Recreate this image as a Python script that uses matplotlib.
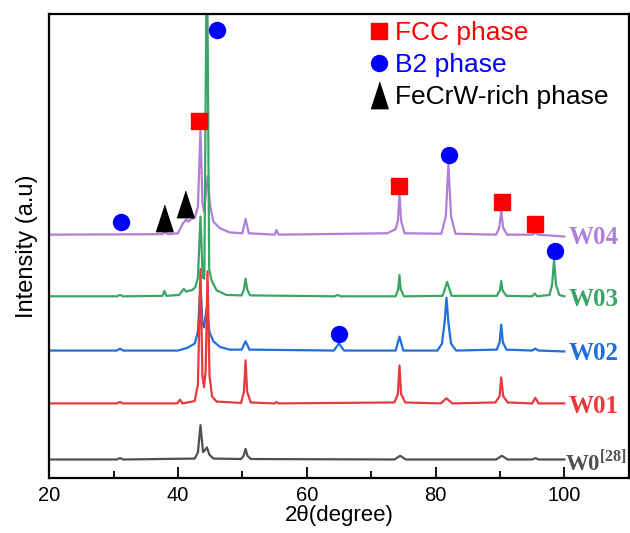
import numpy as np
import matplotlib
matplotlib.use('Agg')
import matplotlib.pyplot as plt
from matplotlib.lines import Line2D

plt.rcParams['font.family'] = ['Liberation Sans', 'DejaVu Sans']
plt.rcParams['mathtext.fontset'] = 'custom'
plt.rcParams['mathtext.rm'] = 'Liberation Serif'
plt.rcParams['mathtext.bf'] = 'Liberation Serif:bold'

# ---- data (2theta, intensity above each baseline, arbitrary units) ----
w0_x = [20, 30.5, 31, 31.5, 42.6, 43.1, 43.5, 43.9, 44.2, 44.5, 44.9, 45.5, 49.8, 50.2, 50.5, 50.8, 51.3,
        73.6, 74.5, 75.4, 89.4, 90.3, 91.2, 95, 95.5, 96, 100]
w0_y = [0, 0, 0.3, 0, 0.2, 1.5, 7.4, 1.6, 2.0, 2.6, 1.0, 0.2, 0.1, 0.8, 2.3, 0.8, 0.1,
        0, 0.8, 0, 0, 0.8, 0, 0, 0.3, 0, 0]

w01_x = [20, 30.5, 31, 31.5, 39.9, 40.3, 40.7, 42.6, 43.1, 43.5, 43.8, 44.05, 44.3, 44.6, 44.9, 45.3, 46,
         49.8, 50.25, 50.5, 50.75, 51.3, 55, 55.3, 55.6, 73.6, 74.15, 74.4, 74.65, 75.3, 80.8, 81.7, 82.6,
         89.3, 89.95, 90.2, 90.5, 91.2, 95.0, 95.5, 96.0, 100]
w01_y = [0, 0, 0.3, 0, 0, 0.8, 0, 0.5, 4, 29, 6, 3.5, 7, 28.5, 6, 1.5, 0.4,
         0.1, 2.5, 9.3, 2.5, 0.2, 0, 0.3, 0, 0.2, 2, 8.2, 2, 0.2, 0, 1.1, 0,
         0.2, 1.6, 5.6, 1.6, 0.2, 0, 1.2, 0, 0]

w02_x = [20, 30.5, 31, 31.5, 40, 41.5, 42.6, 43.1, 43.5, 43.8, 44.05, 44.5, 44.9, 45.5, 46.5, 48,
         49.9, 50.5, 51.1, 64.2, 65.0, 65.8, 73.8, 74.4, 75.0, 80.3, 81.0, 81.4, 81.7, 82.0, 82.4, 83.2,
         89.5, 89.95, 90.2, 90.45, 91.0, 95, 95.5, 96, 100]
w02_y = [0, 0, 0.4, 0, 0, 0.6, 1.5, 4, 14.5, 6, 5, 9.5, 4, 2, 0.8, 0.2,
         0.2, 2, 0.2, 0, 1.5, 0, 0, 3, 0, 0, 1.5, 6, 11.4, 6, 1.5, 0,
         0.2, 1.8, 5.6, 1.8, 0.2, 0, 0.4, 0, -0.2]

w03_x = [20, 30.5, 31, 31.5, 37.6, 37.9, 38.2, 40.2, 40.9, 41.3, 41.6, 42.2, 42.7, 43.1, 43.5, 43.85,
         44.1, 44.5, 44.85, 45.2, 46, 47.5, 49.9, 50.25, 50.5, 50.75, 51.2, 64.3, 64.8, 65.3,
         73.8, 74.2, 74.4, 74.6, 75.1, 81.1, 81.8, 82.5, 89.5, 90.0, 90.2, 90.4, 91.0,
         95.0, 95.4, 95.8, 97.7, 98.1, 98.4, 98.7, 99.2, 100]
w03_y = [0, 0, 0.3, 0, 0.1, 1.2, 0.1, 0.3, 1.6, 1.0, 1.2, 1.3, 2.0, 4, 17.2, 4,
         3.8, 80, 6, 3.5, 1.3, 0.3, 0.2, 1.5, 3.8, 1.5, 0.2, 0, 0.3, 0,
         0, 1.5, 4.6, 1.5, 0, 0.1, 3.1, 0.1, 0.1, 1.3, 3.3, 1.3, 0.1,
         0, 0.6, 0, 0.3, 2.5, 7.8, 2.5, 0.3, 0]

w04_x = [20, 37.6, 38.0, 38.4, 40.0, 40.8, 41.3, 41.6, 42.0, 42.6, 43.1, 43.5, 43.8, 44.05, 44.35, 44.6,
         45.0, 45.5, 46.5, 48.0, 50.0, 50.5, 51.0, 55.0, 55.3, 55.6, 72.5, 73.8, 74.15, 74.4, 74.65, 75.2,
         80.9, 81.6, 82.0, 82.4, 83.1, 89.4, 89.9, 90.2, 90.5, 91.1, 95.1, 95.5, 95.9, 100]
w04_y = [0, 0.1, 0.6, 0.1, 0.3, 2.5, 3.3, 2.8, 3.3, 3.6, 6, 22.6, 7, 5.0, 9, 12.6,
         6.2, 2.8, 1.4, 0.5, 0.3, 3.4, 0.3, 0, 1.0, 0, 0.3, 1.2, 3, 8.7, 3, 0.3,
         0.2, 4, 15.3, 4, 0.2, 0, 1.5, 5.1, 1.5, 0, 0, 0.5, 0, -0.4]

samples = ['W04', 'W03', 'W02', 'W01', r'W0$^{\mathbf{[28]}}$']
offsets = [52.4, 39.1, 27.4, 16.0, 3.9]
colors = ['#b07fd9', '#3aa565', '#1f6fdc', '#e8393c', '#505050']
traces = [(w04_x, w04_y), (w03_x, w03_y), (w02_x, w02_y), (w01_x, w01_y), (w0_x, w0_y)]

# phase markers (2theta, y)
fcc_x = [43.3, 74.4, 90.3, 95.5]
fcc_y = [77.0, 62.8, 59.5, 54.8]
b2_x = [46.0, 82.1, 31.2, 98.6, 65.0]
b2_y = [96.6, 69.5, 55.1, 48.8, 30.9]
fecrw_x = [37.9, 41.1]
fecrw_y = [56.0, 59.0]

tri = [(-0.65, -1), (0.65, -1), (0, 1)]

fig = plt.figure(figsize=(6.3, 5.33), dpi=100)
ax = fig.add_axes([0.078, 0.104, 0.92, 0.8697])

for (x, y), off, c in zip(traces, offsets, colors):
    ax.plot(x, np.array(y) + off, color=c, lw=1.6)

for lab, off, c in zip(samples, offsets, colors):
    last = lab.startswith('W0$')
    ax.text(100.1 if last else 100.6, off - 0.6, lab, color=c, fontsize=16.5 if last else 18,
            fontweight='bold', family='Liberation Serif', ha='left', va='center')

ax.plot(fcc_x, fcc_y, ls='none', marker='s', ms=11, color='#ff0000', mec='#ff0000', zorder=5)
ax.plot(b2_x, b2_y, ls='none', marker='o', ms=11.5, color='#0000ff', mec='#0000ff', zorder=5)
ax.plot(fecrw_x, fecrw_y, ls='none', marker=tri, ms=19, color='black', zorder=5)

handles = [Line2D([], [], ls='none', marker='s', ms=11, color='#ff0000'),
           Line2D([], [], ls='none', marker='o', ms=11.5, color='#0000ff'),
           Line2D([], [], ls='none', marker=tri, ms=19, color='black')]
leg = ax.legend(handles, ['FCC phase', 'B2 phase', 'FeCrW-rich phase'], loc='upper left',
                bbox_to_anchor=(0.555, 0.985), frameon=False, fontsize=19, borderpad=0,
                handlelength=0.6, handletextpad=0.3, labelspacing=0.31, borderaxespad=0)
for t, c in zip(leg.get_texts(), ['#ff0000', '#0000ff', 'black']):
    t.set_color(c)

ax.set_xlim(20, 110)
ax.set_ylim(0, 100)
ax.set_xticks([20, 40, 60, 80, 100])
ax.set_xticks([30, 50, 70, 90], minor=True)
ax.set_yticks([])
ax.tick_params(axis='x', which='major', direction='in', length=8, width=1.3, labelsize=14.5, pad=6)
ax.tick_params(axis='x', which='minor', direction='in', length=5, width=1.3)
for s in ax.spines.values():
    s.set_linewidth(1.6)
ax.set_xlabel('2θ(degree)', fontsize=16, labelpad=0)
ax.set_ylabel('Intensity (a.u)', fontsize=17, labelpad=8)

fig.savefig('out.png', dpi=100)
